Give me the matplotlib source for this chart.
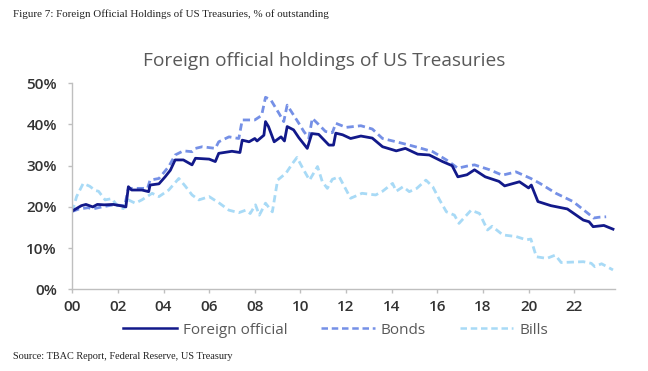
import matplotlib
matplotlib.use("Agg")
import matplotlib.pyplot as plt
from matplotlib.lines import Line2D

# years since 2000, % of outstanding
official_x = [0.0, 0.4, 0.6, 0.9, 1.1, 1.4, 1.8, 2.1, 2.35, 2.46, 2.6, 3.05, 3.35, 3.41, 3.8,
              4.07, 4.3, 4.51, 4.87, 5.25, 5.4, 6.0, 6.27, 6.42, 7.0, 7.35, 7.45, 7.75, 8.0,
              8.1, 8.4, 8.47, 8.6, 8.85, 9.15, 9.3, 9.42, 9.7, 9.93, 10.3, 10.5, 10.8, 11.25,
              11.45, 11.55, 11.85, 12.2, 12.65, 13.15, 13.6, 14.2, 14.6, 15.14, 15.65, 16.23,
              16.65, 16.9, 17.3, 17.63, 18.1, 18.7, 18.95, 19.6, 20.0, 20.12, 20.41, 20.98,
              21.43, 21.7, 22.4, 22.65, 22.83, 23.3, 23.7]
official_y = [19.0, 20.3, 20.6, 20.0, 20.6, 20.5, 20.6, 20.3, 20.0, 24.9, 24.1, 24.1, 23.7, 25.3, 25.6,
              27.3, 28.9, 31.4, 31.4, 30.2, 31.8, 31.6, 31.0, 33.0, 33.5, 33.2, 36.2, 35.8, 36.6,
              36.0, 37.4, 40.7, 39.5, 35.8, 37.0, 36.0, 39.5, 38.7, 36.8, 34.2, 37.8, 37.6, 35.0,
              35.0, 37.9, 37.5, 36.6, 37.2, 36.7, 34.6, 33.6, 34.2, 32.8, 32.6, 31.0,
              30.0, 27.3, 27.8, 29.0, 27.3, 26.2, 25.1, 26.1, 24.6, 25.3, 21.3, 20.3,
              19.8, 19.5, 16.8, 16.4, 15.2, 15.5, 14.6]

bonds_x = [0.0, 0.3, 0.7, 0.9, 1.3, 1.8, 2.3, 2.46, 2.75, 3.3, 3.41, 3.8, 4.23, 4.51, 4.87,
           5.25, 5.4, 5.7, 6.27, 6.42, 6.87, 7.3, 7.45, 8.0, 8.3, 8.47, 8.7, 9.05, 9.27, 9.42,
           9.64, 9.93, 10.15, 10.37, 10.52, 10.8, 11.1, 11.4, 11.55, 12.0, 12.65, 13.15, 13.6,
           14.2, 14.77, 15.3, 15.8, 16.4, 16.9, 17.3, 17.63, 18.3, 18.85, 19.45, 20.1, 20.5,
           21.2, 21.95, 22.7, 22.85, 23.1, 23.4]
bonds_y = [18.9, 19.5, 19.8, 19.5, 20.0, 20.5, 20.3, 24.5, 24.5, 24.5, 26.5, 26.9, 29.8, 32.6, 33.6,
           33.4, 34.2, 34.6, 34.2, 35.8, 37.0, 36.6, 41.1, 41.1, 42.2, 46.6, 46.0, 42.8, 40.7, 44.7,
           42.8, 40.3, 38.3, 36.7, 41.5, 40.0, 38.3, 38.0, 40.3, 39.3, 39.7, 38.9, 36.6,
           35.8, 35.0, 34.2, 33.4, 31.4, 29.4, 29.9, 30.2, 29.0, 27.7, 28.5, 26.9, 25.7,
           23.3, 21.3, 18.0, 17.3, 17.5, 17.6]

bills_x = [0.0, 0.19, 0.48, 0.77, 1.0, 1.15, 1.44, 1.73, 2.02, 2.24, 2.46, 2.76, 3.05, 3.5, 3.8,
           4.23, 4.67, 4.96, 5.25, 5.55, 6.0, 6.45, 6.87, 7.3, 7.6, 7.8, 8.03, 8.2, 8.47, 8.77,
           9.0, 9.37, 9.66, 9.85, 10.14, 10.4, 10.75, 10.96, 11.18, 11.4, 11.7, 12.2, 12.7,
           13.3, 13.6, 14.04, 14.2, 14.5, 14.77, 15.1, 15.5, 15.8, 16.1, 16.4, 16.75, 16.95,
           17.48, 17.85, 18.2, 18.4, 18.87, 19.46, 19.9, 20.1, 20.34, 20.8, 21.17, 21.43,
           21.9, 22.4, 22.75, 22.9, 23.2, 23.7]
bills_y = [18.8, 22.5, 25.7, 25.0, 24.0, 23.8, 21.7, 22.0, 20.0, 19.6, 21.7, 20.9, 21.7, 23.3, 22.5,
           24.1, 26.9, 25.0, 22.9, 21.7, 22.5, 20.9, 19.2, 18.6, 19.2, 18.4, 20.5, 18.0, 20.9, 18.8,
           26.5, 28.2, 30.6, 32.0, 29.0, 26.5, 29.8, 26.1, 24.5, 26.7, 27.3, 22.1, 23.3,
           22.9, 23.8, 25.7, 23.8, 24.9, 23.7, 24.5, 26.5, 24.9, 21.7, 18.8, 18.0, 16.0,
           19.2, 18.4, 14.4, 15.3, 13.2, 12.8, 12.0, 12.2, 7.9, 7.5, 8.3, 6.5,
           6.6, 6.7, 6.3, 5.5, 6.2, 4.7]

tick_years = list(range(0, 24, 2))
tick_labels = ["%02d" % t for t in tick_years]

c_official = "#12198a"
c_bonds = "#7590e6"
c_bills = "#a8daf6"
grey = "#595959"
dash = (2.6, 1.5)

fig = plt.figure(figsize=(6.48, 3.71), dpi=100)
ax = fig.add_axes([0.1115, 0.2202, 0.838, 0.5553])

ax.plot(bills_x, bills_y, color=c_bills, lw=2.0, dashes=dash)
ax.plot(bonds_x, bonds_y, color=c_bonds, lw=2.0, dashes=dash)
ax.plot(official_x, official_y, color=c_official, lw=2.0)

ax.set_xlim(0, 23.8)
ax.set_ylim(0, 50)
ax.set_yticks(range(0, 51, 10))
ax.set_yticklabels(["%d%%" % v for v in range(0, 51, 10)])
ax.set_xticks(tick_years)
ax.set_xticklabels(tick_labels)

for s in ["top", "right"]:
    ax.spines[s].set_visible(False)
for s in ["left", "bottom"]:
    ax.spines[s].set_color("#bfbfbf")
    ax.spines[s].set_linewidth(1.0)
ax.tick_params(axis="both", colors="#bfbfbf", length=3, width=1.0,
               labelcolor="#333333", labelsize=11)
for lab in ax.get_xticklabels() + ax.get_yticklabels():
    lab.set_fontfamily("Open Sans")
    lab.set_fontweight("semibold")
ax.tick_params(axis="y", pad=8)
ax.tick_params(axis="x", pad=5)

fig.text(0.5, 0.836, "Foreign official holdings of US Treasuries", ha="center", va="center",
         fontsize=13.8, color=grey, family="Open Sans")

handles = [Line2D([], [], color=c_official, lw=1.8),
           Line2D([], [], color=c_bonds, lw=1.8, dashes=dash),
           Line2D([], [], color=c_bills, lw=1.8, dashes=dash)]
fig.legend(handles, ["Foreign official", "Bonds", "Bills"], loc="center",
           bbox_to_anchor=(0.518, 0.11), ncol=3, frameon=False, handlelength=3.5,
           handletextpad=0.4, columnspacing=2.2, prop={"family": "Open Sans", "size": 11},
           labelcolor=grey)

fig.text(0.02, 0.963, "Figure 7: Foreign Official Holdings of US Treasuries, % of outstanding",
         ha="left", va="center", fontsize=7.9, color="#222222", family="Liberation Serif")
fig.text(0.02, 0.04, "Source: TBAC Report, Federal Reserve, US Treasury",
         ha="left", va="center", fontsize=7.4, color="#222222", family="Liberation Serif")

fig.savefig("out.png", dpi=100)
